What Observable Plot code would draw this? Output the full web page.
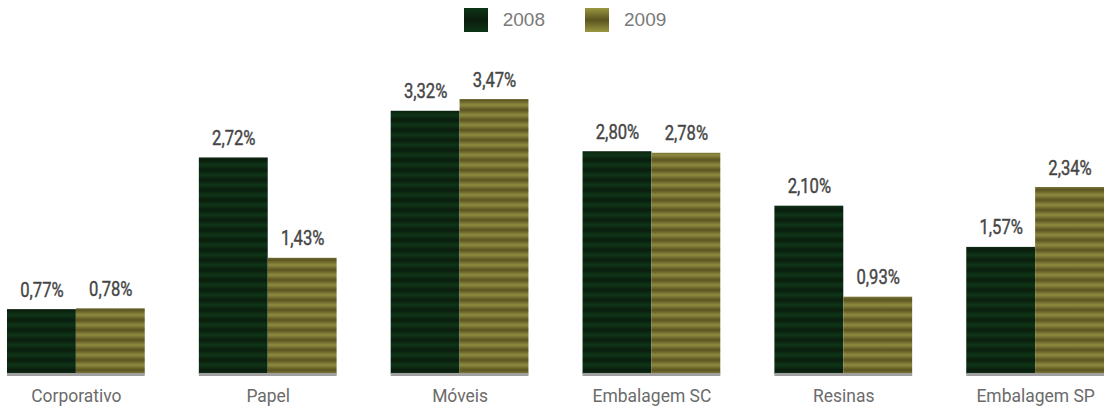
<!DOCTYPE html>
<html>
<head>
<meta charset="utf-8">
<script src="https://cdn.jsdelivr.net/npm/d3@7"></script>
<script src="https://cdn.jsdelivr.net/npm/@observablehq/plot@0.6"></script>
<style>
  html, body { margin: 0; padding: 0; background: #fff; }
  #wrap { width: 1104px; height: 412px; position: relative; overflow: hidden; }
  #legend { height: 40px; display: flex; justify-content: center; align-items: center; gap: 0; font-family: "Liberation Sans", Arial, sans-serif; font-size: 19px; color: #7a7a7a; padding-left: 26px; box-sizing: border-box; }
  .item { display: flex; align-items: center; margin: 0 20px; }
  .sw { width: 24px; height: 24px; margin-right: 15px; }
</style>
</head>
<body>
<div id="wrap">
  <div id="legend"></div>
  <div id="chart"></div>
</div>
<script>
const categories = ["Corporativo", "Papel", "Móveis", "Embalagem SC", "Resinas", "Embalagem SP"];
const series = ["2008", "2009"];
const values2008 = [0.77, 2.72, 3.32, 2.80, 2.10, 1.57];
const values2009 = [0.78, 1.43, 3.47, 2.78, 0.93, 2.34];
const yMin = -0.064;
const yMax = 4.23;

const data = [];
categories.forEach((c, i) => {
  data.push({cat: c, s: "2008", v: values2008[i]});
  data.push({cat: c, s: "2009", v: values2009[i]});
});
const fmt = v => v.toFixed(2).replace(".", ",") + "%";

const chart = Plot.plot({
  width: 1104,
  height: 372,
  marginLeft: 7,
  marginRight: 0,
  marginTop: 0,
  marginBottom: 38,
  style: {fontFamily: 'Roboto, "DejaVu Sans Condensed", sans-serif', background: "#fff"},
  fx: {domain: categories, paddingInner: 0.282, paddingOuter: 0, round: false, label: null, axis: null},
  x: {domain: series, padding: 0, round: false, axis: null},
  y: {domain: [yMin, yMax], axis: null},
  color: {domain: series, range: ["url(#p2008)", "url(#p2009)"]},
  marks: [
    Plot.rectY(data, {fx: "cat", x: "s", y1: yMin, y2: "v", fill: "s"}),
    Plot.text(data, {fx: "cat", x: "s", y: "v", text: d => fmt(d.v), lineAnchor: "bottom", dy: -13, fontSize: 20, fill: "#454545", stroke: "#454545", strokeWidth: 0.4}),
    Plot.ruleY([yMin], {stroke: "#a0a0a0", strokeWidth: 3}),
    Plot.text(categories, {fx: d => d, frameAnchor: "bottom", lineAnchor: "middle", dy: 22, text: d => d, fontSize: 18, fill: "#6b6b6b"})
  ]
});

// stripe patterns
const defs = d3.select(chart).insert("defs", ":first-child");
function stripe(id, dark, light) {
  const g = defs.append("linearGradient").attr("id", id + "g").attr("x1", 0).attr("y1", 0).attr("x2", 0).attr("y2", 1);
  g.append("stop").attr("offset", "0%").attr("stop-color", dark);
  g.append("stop").attr("offset", "50%").attr("stop-color", light);
  g.append("stop").attr("offset", "100%").attr("stop-color", dark);
  const p = defs.append("pattern").attr("id", id).attr("patternUnits", "userSpaceOnUse").attr("width", 10).attr("height", 10);
  p.append("rect").attr("width", 10).attr("height", 10).attr("fill", "url(#" + id + "g)");
}
stripe("p2008", "#0a1c0d", "#0e3517");
stripe("p2009", "#5a5420", "#8e8a42");

document.getElementById("chart").appendChild(chart);

// condense value labels (narrow face look)
const textGroups = d3.select(chart).selectAll('g[aria-label="text"]').nodes();
d3.select(textGroups[0]).selectAll("text").each(function() {
  const w = this.getComputedTextLength();
  this.setAttribute("textLength", (w * 0.83).toFixed(1));
  this.setAttribute("lengthAdjust", "spacingAndGlyphs");
});
d3.select(textGroups[1]).selectAll("text").each(function() {
  const w = this.getComputedTextLength();
  this.setAttribute("textLength", (w * 0.97).toFixed(1));
  this.setAttribute("lengthAdjust", "spacingAndGlyphs");
});

const legend = document.getElementById("legend");
series.forEach((s, i) => {
  const it = document.createElement("div");
  it.className = "item";
  const sw = document.createElementNS("http://www.w3.org/2000/svg", "svg");
  sw.setAttribute("class", "sw");
  sw.setAttribute("width", 24); sw.setAttribute("height", 24);
  const fill = i === 0 ? ["#0a1c0d", "#0e3517"] : ["#5a5420", "#9a9640"];
  sw.innerHTML = `<defs><linearGradient id="lg${i}" x1="0" y1="0" x2="0" y2="1"><stop offset="0" stop-color="${fill[1]}"/><stop offset="0.5" stop-color="${fill[0]}"/><stop offset="1" stop-color="${fill[1]}"/></linearGradient></defs><rect width="24" height="24" fill="url(#lg${i})"/>`;
  const t = document.createElement("span");
  t.textContent = s;
  it.appendChild(sw); it.appendChild(t);
  legend.appendChild(it);
});
</script>
</body>
</html>
